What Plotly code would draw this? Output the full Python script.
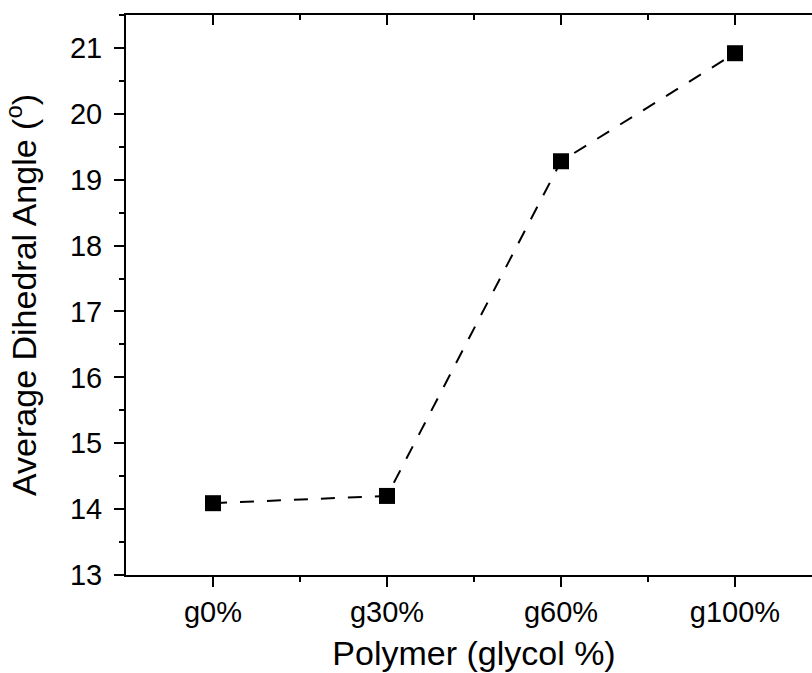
import plotly.graph_objects as go

categories = ["g0%", "g30%", "g60%", "g100%"]
angles = [14.09, 14.20, 19.28, 20.92]
x_pos = [0, 1, 2, 3]
x_minor = [0.5, 1.5, 2.5]

FONT = "Arial, Liberation Sans, sans-serif"

fig = go.Figure()
fig.add_trace(go.Scatter(
    x=x_pos, y=angles, mode="lines+markers",
    line=dict(color="black", width=2, dash="14px,13px"),
    marker=dict(symbol="square", size=16, color="black", line=dict(width=0)),
    showlegend=False, hoverinfo="x+y",
))
# helper trace so the mirrored (top/right) axes are drawn
fig.add_trace(go.Scatter(
    x=[x_pos[0]], y=[angles[0]], xaxis="x2", yaxis="y2", mode="markers",
    marker=dict(opacity=0), showlegend=False, hoverinfo="skip",
))

common = dict(showline=True, linecolor="black", linewidth=2, showgrid=False,
              zeroline=False, tickcolor="black", tickwidth=2)

fig.update_layout(
    width=836, height=673,
    margin=dict(l=126, r=14, t=15, b=98),
    paper_bgcolor="white", plot_bgcolor="white",
    font=dict(family=FONT, color="black"),
    xaxis=dict(range=[-0.5, 3.5], tickvals=x_pos, ticktext=categories,
               ticks="outside", ticklen=10,
               minor=dict(tickvals=x_minor, ticks="outside", ticklen=5,
                          tickwidth=2, tickcolor="black"),
               tickfont=dict(size=29, family=FONT, color="black"),
               title=dict(text="Polymer (glycol %)", standoff=14,
                          font=dict(size=34, family=FONT, color="black")),
               automargin=False, **common),
    yaxis=dict(range=[13, 21.5], tick0=13, dtick=1,
               ticks="outside", ticklen=10, ticklabelstandoff=6,
               minor=dict(dtick=0.5, ticks="outside", ticklen=5,
                          tickwidth=2, tickcolor="black"),
               tickfont=dict(size=29, family=FONT, color="black"),
               title=dict(text="Average Dihedral Angle (<sup>o</sup>)", standoff=24,
                          font=dict(size=34, family=FONT, color="black")),
               automargin=False, **common),
    xaxis2=dict(range=[-0.5, 3.5], overlaying="x", side="top", anchor="y2",
                tickvals=x_pos, ticks="inside", ticklen=10, showticklabels=False,
                minor=dict(tickvals=x_minor, ticks="inside", ticklen=5,
                           tickwidth=2, tickcolor="black"),
                automargin=False, **common),
    yaxis2=dict(range=[13, 21.5], overlaying="y", side="right", anchor="x2",
                tick0=13, dtick=1, ticks="inside", ticklen=10, showticklabels=False,
                minor=dict(dtick=0.5, ticks="inside", ticklen=5,
                           tickwidth=2, tickcolor="black"),
                automargin=False, **common),
)

fig.write_html("out.html", post_script="document.body.style.overflow='hidden';document.body.style.margin='0';")
